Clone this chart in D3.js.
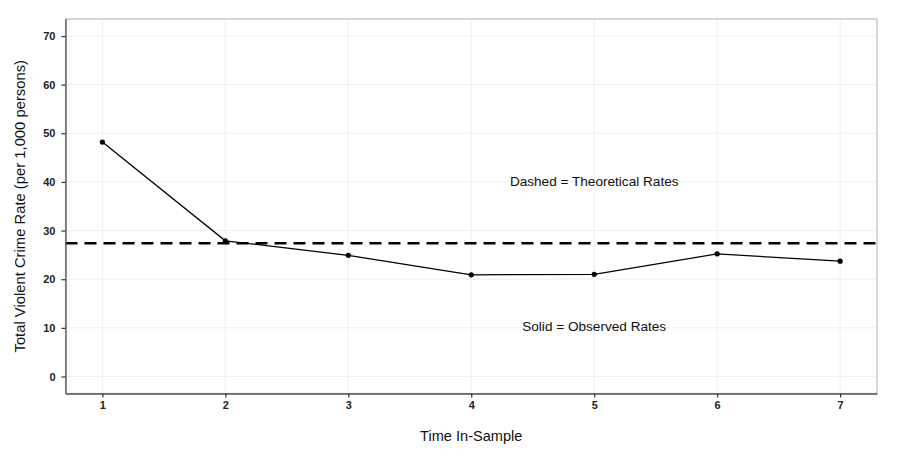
<!DOCTYPE html>
<html>
<head>
<meta charset="utf-8">
<script src="https://cdn.jsdelivr.net/npm/d3@7"></script>
<style>
  body { margin: 0; background: #fff; }
  svg { font-family: "Liberation Sans", Arial, sans-serif; }
</style>
</head>
<body>
<svg id="chart" width="900" height="456"></svg>
<script>
// data
const times = [1, 2, 3, 4, 5, 6, 7];
const observed = [48.2, 27.9, 24.9, 20.9, 21.0, 25.2, 23.7];
const theoretical = 27.4;
const yTicks = [0, 10, 20, 30, 40, 50, 60, 70];
const xTicks = [1, 2, 3, 4, 5, 6, 7];
const notes = [
    {x: 5, y: 40, text: "Dashed = Theoretical Rates"},
    {x: 5, y: 10, text: "Solid = Observed Rates"}
];

const margin = {left: 65.5, right: 23, top: 19, bottom: 62.5};
const width = 900, height = 456;
const svg = d3.select("#chart");

const x = d3.scaleLinear()
    .domain([0.7, 7.3])
    .range([margin.left, width - margin.right]);
const y = d3.scaleLinear()
    .domain([-3.5, 73.5])
    .range([height - margin.bottom, margin.top]);

// grid
const grid = svg.append("g");
grid.selectAll("line.gx")
    .data(xTicks)
    .join("line")
    .attr("x1", d => x(d)).attr("x2", d => x(d))
    .attr("y1", margin.top).attr("y2", height - margin.bottom)
    .attr("stroke", "#efefef")
    .attr("stroke-width", 1);
grid.selectAll("line.gy")
    .data(yTicks)
    .join("line")
    .attr("x1", margin.left).attr("x2", width - margin.right)
    .attr("y1", d => y(d)).attr("y2", d => y(d))
    .attr("stroke", "#efefef")
    .attr("stroke-width", 1);

// panel border
svg.append("rect")
    .attr("x", margin.left)
    .attr("y", margin.top)
    .attr("width", width - margin.left - margin.right)
    .attr("height", height - margin.top - margin.bottom)
    .attr("fill", "none")
    .attr("stroke", "#bdbdbd")
    .attr("stroke-width", 1.2);

// theoretical rate
svg.append("line")
    .attr("x1", margin.left)
    .attr("x2", width - margin.right)
    .attr("y1", y(theoretical))
    .attr("y2", y(theoretical))
    .attr("stroke", "#000")
    .attr("stroke-width", 2.6)
    .attr("stroke-dasharray", "12,7");

// observed rates
const line = d3.line()
    .x((d, i) => x(times[i]))
    .y(d => y(d));
svg.append("path")
    .datum(observed)
    .attr("d", line)
    .attr("fill", "none")
    .attr("stroke", "#000")
    .attr("stroke-width", 1.3);
svg.selectAll("circle.pt")
    .data(observed)
    .join("circle")
    .attr("cx", (d, i) => x(times[i]))
    .attr("cy", d => y(d))
    .attr("r", 2.6)
    .attr("fill", "#000");

// notes
svg.selectAll("text.note")
    .data(notes)
    .join("text")
    .attr("x", d => x(d.x))
    .attr("y", d => y(d.y))
    .attr("text-anchor", "middle")
    .attr("dominant-baseline", "middle")
    .attr("font-size", 13.6)
    .attr("fill", "#111")
    .text(d => d.text);

// axes
const xAxis = svg.append("g")
    .attr("transform", `translate(0,${height - margin.bottom})`)
    .call(d3.axisBottom(x).tickValues(xTicks).tickSize(4).tickSizeOuter(0).tickPadding(4).tickFormat(d3.format("d")));
const yAxis = svg.append("g")
    .attr("transform", `translate(${margin.left},0)`)
    .call(d3.axisLeft(y).tickValues(yTicks).tickSize(4).tickSizeOuter(0).tickPadding(6).tickFormat(d3.format("d")));
[xAxis, yAxis].forEach(a => {
    a.select(".domain").attr("stroke", "#555").attr("stroke-width", 1.3);
    a.selectAll(".tick line").attr("stroke", "#333").attr("stroke-width", 1.2);
    a.selectAll(".tick text")
        .attr("fill", "#222")
        .attr("font-size", 11)
        .attr("font-weight", "bold")
        .attr("font-family", "\"Liberation Sans\", Arial, sans-serif");
});

// axis titles
svg.append("text")
    .attr("x", (margin.left + width - margin.right) / 2)
    .attr("y", 437)
    .attr("text-anchor", "middle")
    .attr("dominant-baseline", "middle")
    .attr("font-size", 14.6)
    .attr("fill", "#111")
    .text("Time In-Sample");
svg.append("text")
    .attr("transform", `translate(21,${(margin.top + height - margin.bottom) / 2}) rotate(-90)`)
    .attr("text-anchor", "middle")
    .attr("dominant-baseline", "middle")
    .attr("font-size", 14.8)
    .attr("fill", "#111")
    .text("Total Violent Crime Rate (per 1,000 persons)");
</script>
</body>
</html>
